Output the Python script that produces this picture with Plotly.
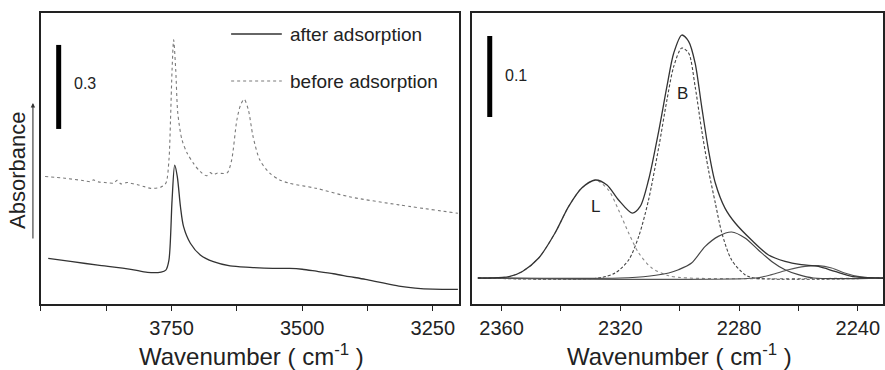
import plotly.graph_objects as go

# ---------------- Left panel: OH region ----------------
wn_after = [3986, 3940, 3891, 3828, 3796, 3770, 3761, 3755, 3749, 3744, 3739, 3733, 3727,
            3714, 3695, 3670, 3638, 3600, 3556, 3524, 3500, 3473, 3440, 3410, 3379, 3348,
            3315, 3284, 3250, 3202]
abs_after = [0.163, 0.151, 0.139, 0.124, 0.113, 0.114, 0.121, 0.157, 0.371, 0.496, 0.455,
             0.348, 0.276, 0.217, 0.175, 0.151, 0.136, 0.131, 0.1275, 0.127, 0.124, 0.117,
             0.108, 0.098, 0.088, 0.076, 0.064, 0.057, 0.053, 0.052]

wn_before = [3992, 3954, 3920, 3904, 3900, 3890, 3878, 3860, 3854, 3847, 3835, 3828, 3815,
             3802, 3790, 3771, 3761, 3755, 3752, 3749, 3746, 3742, 3738, 3730, 3720, 3708,
             3695, 3683, 3676, 3670, 3663, 3650, 3643, 3635, 3625, 3618, 3611, 3603, 3594,
             3581, 3562, 3543, 3524, 3473, 3410, 3315, 3202]
abs_before = [0.455, 0.449, 0.441, 0.437, 0.443, 0.436, 0.434, 0.432, 0.442, 0.429, 0.434,
              0.431, 0.426, 0.419, 0.413, 0.417, 0.431, 0.514, 0.657, 0.836, 0.943, 0.836,
              0.681, 0.586, 0.538, 0.502, 0.4725, 0.458, 0.469, 0.462, 0.467, 0.466, 0.469,
              0.514, 0.657, 0.710, 0.731, 0.693, 0.598, 0.514, 0.467, 0.443, 0.431, 0.413,
              0.383, 0.354, 0.324]

# ---------------- Right panel: CD3CN region, fitted bands ----------------
wn_total = [2368, 2364, 2357.5, 2353, 2347.5, 2342, 2337.4, 2333, 2328.4, 2324.5, 2320.6,
            2316, 2313.3, 2310.5, 2307, 2304.3, 2302, 2299.3, 2297, 2294.8, 2292.6, 2290.3,
            2288, 2284.7, 2281.3, 2275.8, 2270.2, 2264.5, 2259, 2253.3, 2247.7, 2242, 2233, 2230]
abs_total = [0, 0, 0.0016, 0.0081, 0.0247, 0.0556, 0.0884, 0.1111, 0.121, 0.1148, 0.0963,
             0.0802, 0.0884, 0.121, 0.1827, 0.2365, 0.2778, 0.3, 0.2921, 0.2654, 0.2119, 0.158,
             0.1173, 0.086, 0.0679, 0.0469, 0.0288, 0.0205, 0.0164, 0.0143, 0.0081, 0.002, 0, 0]

wn_B = [2368, 2327.3, 2321.7, 2317.2, 2313.8, 2310.5, 2307, 2304.3, 2302, 2299.3, 2297,
        2294.8, 2292.6, 2290.3, 2288, 2285.8, 2282.5, 2278, 2275, 2230]
abs_B = [0, 0, 0.0062, 0.0222, 0.0514, 0.0963, 0.1625, 0.2198, 0.2612, 0.284, 0.2778,
         0.2365, 0.1827, 0.1333, 0.0926, 0.0556, 0.0222, 0.0041, 0, 0]

wn_L = [2368, 2364, 2357.5, 2353, 2347.5, 2342, 2337.4, 2333, 2328.4, 2324, 2320.6, 2317.2,
        2313.8, 2309.4, 2303.7, 2297, 2230]
abs_L = [0, 0, 0.0016, 0.0081, 0.0247, 0.0556, 0.0884, 0.1111, 0.121, 0.1086, 0.084,
         0.0556, 0.0309, 0.0123, 0.0028, 0, 0]

wn_c3 = [2368, 2320, 2310, 2303.7, 2300.4, 2296, 2291.4, 2287, 2282.5, 2278, 2273.5, 2269,
         2264.5, 2260, 2255, 2230]
abs_c3 = [0, 0, 0.0025, 0.0062, 0.0102, 0.0185, 0.039, 0.0514, 0.0568, 0.0494, 0.0346,
          0.0205, 0.0102, 0.0041, 0, 0]

wn_c4 = [2368, 2274.6, 2269, 2263.4, 2257.8, 2253.3, 2248.8, 2244.4, 2240, 2235, 2230]
abs_c4 = [0, 0, 0.0041, 0.0102, 0.0143, 0.0152, 0.0123, 0.0062, 0.002, 0, 0]

left_ticks = [4000, 3875, 3750, 3625, 3500, 3375, 3250]
left_ticktext = ["", "", "3750", "", "3500", "", "3250"]
right_ticks = [2360, 2340, 2320, 2300, 2280, 2260, 2240]
right_ticktext = ["2360", "", "2320", "", "2280", "", "2240"]

FONT = "Liberation Sans, Arial, sans-serif"
W, H = 885, 370

fig = go.Figure()
SM = 0.8
fig.add_trace(go.Scatter(x=wn_before, y=abs_before, mode="lines", xaxis="x", yaxis="y",
                         line=dict(color="#7a7a7a", width=1.1, dash="dot", shape="spline", smoothing=SM)))
fig.add_trace(go.Scatter(x=wn_after, y=abs_after, mode="lines", xaxis="x", yaxis="y",
                         line=dict(color="#333333", width=1.3, shape="spline", smoothing=SM)))

fig.add_trace(go.Scatter(x=wn_L, y=abs_L, mode="lines", xaxis="x2", yaxis="y2",
                         line=dict(color="#8a8a8a", width=1.1, dash="dot", shape="spline", smoothing=SM)))
fig.add_trace(go.Scatter(x=wn_B, y=abs_B, mode="lines", xaxis="x2", yaxis="y2",
                         line=dict(color="#444444", width=1.1, dash="3px,2px", shape="spline", smoothing=SM)))
fig.add_trace(go.Scatter(x=wn_c3, y=abs_c3, mode="lines", xaxis="x2", yaxis="y2",
                         line=dict(color="#444444", width=1.2, shape="spline", smoothing=SM)))
fig.add_trace(go.Scatter(x=wn_c4, y=abs_c4, mode="lines", xaxis="x2", yaxis="y2",
                         line=dict(color="#555555", width=1.2, shape="spline", smoothing=SM)))
fig.add_trace(go.Scatter(x=wn_total, y=abs_total, mode="lines", xaxis="x2", yaxis="y2",
                         line=dict(color="#333333", width=1.3, shape="spline", smoothing=SM)))

ydom = [1 - 304 / H, 1 - 13 / H]
axis_common = dict(showgrid=False, zeroline=False, showline=True, linecolor="#222222",
                   linewidth=1.6, mirror=True, ticks="outside", ticklen=5, tickwidth=1.2,
                   tickcolor="#222222", tickfont=dict(family=FONT, size=20, color="#222222"))
fig.update_layout(
    width=W, height=H, margin=dict(l=0, r=0, t=0, b=0),
    paper_bgcolor="white", plot_bgcolor="white", showlegend=False,
    xaxis=dict(domain=[41 / W, 460 / W], range=[4000, 3200], tickmode="array",
               tickvals=left_ticks, ticktext=left_ticktext, anchor="y", **axis_common),
    yaxis=dict(domain=ydom, range=[0, 1.039], showgrid=False, zeroline=False, showline=True,
               linecolor="#222222", linewidth=1.6, mirror=True, showticklabels=False,
               ticks="", anchor="x"),
    xaxis2=dict(domain=[473 / W, 1.0], range=[2370, 2231.5], tickmode="array",
                tickvals=right_ticks, ticktext=right_ticktext, anchor="y2", **axis_common),
    yaxis2=dict(domain=ydom, range=[-0.0321, 0.3272], showgrid=False, zeroline=False,
                showline=True, linecolor="#222222", linewidth=1.6, mirror=True,
                showticklabels=False, ticks="", anchor="x2"),
)

# scale bars
fig.add_shape(type="line", xref="x", yref="y", x0=3966, x1=3966, y0=0.625, y1=0.925,
              line=dict(color="black", width=5))
fig.add_shape(type="line", xref="x2", yref="y2", x0=2364, x1=2364, y0=0.1988, y1=0.2988,
              line=dict(color="black", width=5))
# legend lines
fig.add_shape(type="line", xref="x", yref="y", x0=3636, x1=3539, y0=0.964, y1=0.964,
              line=dict(color="#333333", width=1.3))
fig.add_shape(type="line", xref="x", yref="y", x0=3636, x1=3539, y0=0.796, y1=0.796,
              line=dict(color="#7a7a7a", width=1.1, dash="dot"))

def ann(text, x, y, xref, yref, size, xanchor="center", **kw):
    fig.add_annotation(text=text, x=x, y=y, xref=xref, yref=yref, showarrow=False,
                       xanchor=xanchor, yanchor="middle",
                       font=dict(family=FONT, size=size, color="#222222"), **kw)

ann("after adsorption", 3527, 0.964, "x", "y", 19, xanchor="left")
ann("before adsorption", 3527, 0.796, "x", "y", 19, xanchor="left")
ann("0.3", 3916, 0.789, "x", "y", 16)
ann("0.1", 2355, 0.2506, "x2", "y2", 16)
ann("B", 2299.1, 0.2272, "x2", "y2", 17)
ann("L", 2328.2, 0.0877, "x2", "y2", 17)

ann("Wavenumber ( cm<sup>-1</sup> )", 252 / W, 1 - 355 / H, "paper", "paper", 24)
ann("Wavenumber ( cm<sup>-1</sup> )", 681 / W, 1 - 355 / H, "paper", "paper", 24)
ann("Absorbance", 17 / W, 1 - 170 / H, "paper", "paper", 22, textangle=-90)

# arrow beside the Absorbance label
fig.add_annotation(x=33 / W, y=1 - 103 / H, xref="paper", yref="paper", ax=0, ay=137,
                   axref="pixel", ayref="pixel", showarrow=True, arrowhead=2,
                   arrowsize=0.8, arrowwidth=1.1, arrowcolor="#333333", text="")

fig.write_html("out.html", config={"displayModeBar": False},
               post_script="document.body.style.margin='0';document.body.style.padding='0';")
